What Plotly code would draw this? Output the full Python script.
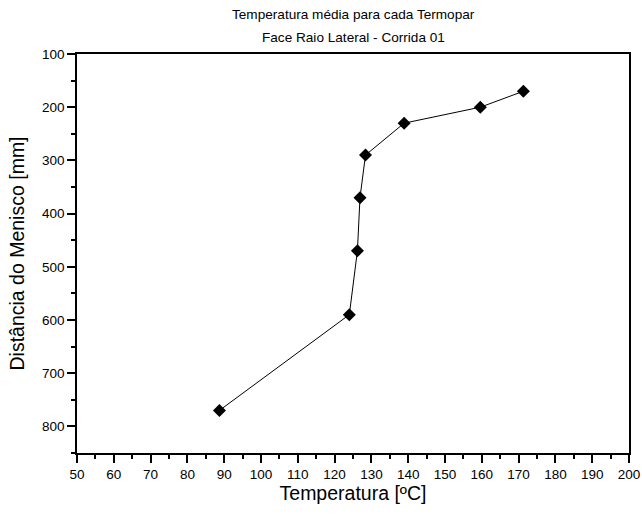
import plotly.graph_objects as go

temperatura = [88.7, 124.0, 126.2, 126.9, 128.4, 138.9, 159.6, 171.3]
distancia = [770, 590, 470, 370, 290, 230, 200, 170]

x_ticks = list(range(50, 201, 10))
y_ticks = list(range(100, 801, 100))

title_lines = ["Temperatura média para cada Termopar", "Face Raio Lateral - Corrida 01"]
x_title = "Temperatura [ºC]"
y_title = "Distância do Menisco [mm]"

font_family = "Liberation Sans, Arial, sans-serif"

fig = go.Figure()
fig.add_trace(go.Scatter(
    x=temperatura, y=distancia, mode="lines+markers",
    line=dict(color="black", width=1),
    marker=dict(symbol="diamond", size=10, color="black"),
    showlegend=False,
))

fig.update_layout(
    width=642, height=520,
    margin=dict(l=77, r=13, t=54, b=67, autoexpand=False),
    paper_bgcolor="white", plot_bgcolor="white",
    font=dict(family=font_family, color="black", size=13.5),
)

# Two-line title placed above the plot area
for text, ypx in zip(title_lines, [15, 37]):
    fig.add_annotation(
        text=text, xref="paper", yref="paper",
        x=0.5, y=1 + (54 - ypx) / 399, xanchor="center", yanchor="middle",
        showarrow=False, font=dict(size=13.6, family=font_family),
    )

fig.update_xaxes(
    range=[50, 200], tickvals=x_ticks, ticktext=[str(v) for v in x_ticks],
    ticks="outside", ticklen=8, tickwidth=1.5, tickcolor="black",
    minor=dict(dtick=5, tick0=50, ticks="outside", ticklen=4, tickwidth=1.5, tickcolor="black", showgrid=False),
    showline=True, linecolor="black", linewidth=1.5, mirror=True,
    showgrid=False, zeroline=False, automargin=False,
    tickfont=dict(size=13.5),
    title=dict(text=x_title, font=dict(size=19.5), standoff=5),
)
fig.update_yaxes(
    range=[850, 100], tickvals=y_ticks, ticktext=[str(v) for v in y_ticks],
    ticks="outside", ticklen=8, tickwidth=1.5, tickcolor="black",
    minor=dict(dtick=50, tick0=100, ticks="outside", ticklen=4, tickwidth=1.5, tickcolor="black", showgrid=False),
    showline=True, linecolor="black", linewidth=1.5, mirror=True,
    showgrid=False, zeroline=False, automargin=False,
    tickfont=dict(size=13.5),
    title=dict(text=y_title, font=dict(size=19.5), standoff=12),
)

fig.write_html("out.html")
